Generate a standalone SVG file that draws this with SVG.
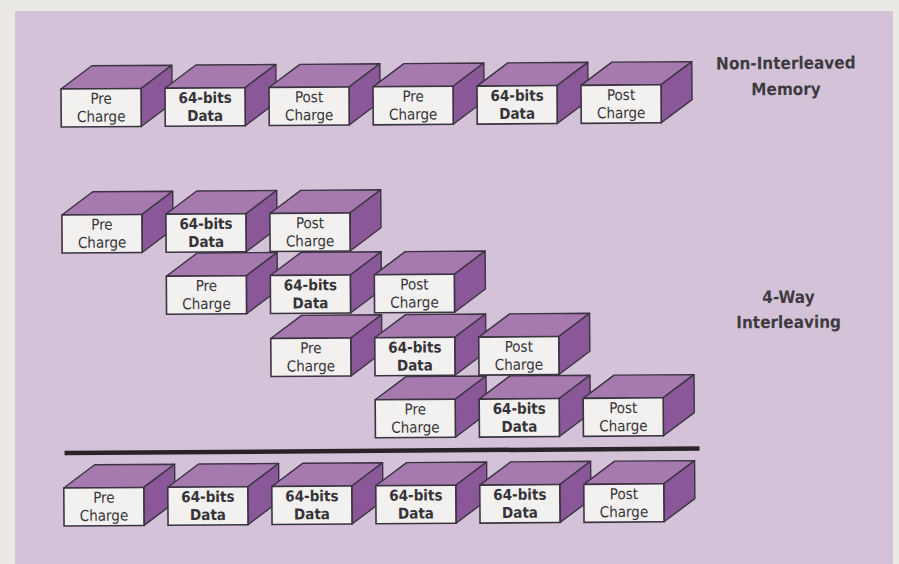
<svg xmlns="http://www.w3.org/2000/svg" xmlns:xlink="http://www.w3.org/1999/xlink" width="899" height="564" viewBox="0 0 899 564">
<style>
.top{fill:#a77aaf;stroke:#3a3340;stroke-width:1.4;stroke-linejoin:round}
.side{fill:#8a5898;stroke:#3a3340;stroke-width:1.4;stroke-linejoin:round}
.front{fill:#f3f1ef;stroke:#3a3340;stroke-width:1.6}
.t{font-family:"DejaVu Sans","Liberation Sans",sans-serif;font-stretch:condensed;font-size:15px;fill:#353337;text-anchor:middle}
.b{font-weight:bold}
.lbl{font-family:"DejaVu Sans","Liberation Sans",sans-serif;font-stretch:condensed;font-size:17px;font-weight:bold;fill:#3d3b40;text-anchor:middle}
</style>
<defs>
<g id="cube">
<polygon class="top" points="0,0 31,-23 111,-23 80,0"/>
<polygon class="side" points="80,0 111,-23 111,15 80,38"/>
<rect class="front" x="0" y="0" width="80" height="38"/>
</g>
</defs>
<rect x="0" y="0" width="899" height="564" fill="#ebe9e6"/>
<rect x="15" y="11" width="878" height="560" fill="#d4c3d8"/>
<g transform="rotate(-0.4 61 89)">
<g id="row1">
<g id="r1c1" transform="translate(61,89)"><use xlink:href="#cube"/><text class="t" x="40" y="15">Pre</text><text class="t" x="40" y="33">Charge</text></g>
<g id="r1c2" transform="translate(165,89)"><use xlink:href="#cube"/><text class="t b" x="40" y="15">64-bits</text><text class="t b" x="40" y="33">Data</text></g>
<g id="r1c3" transform="translate(269,89)"><use xlink:href="#cube"/><text class="t" x="40" y="15">Post</text><text class="t" x="40" y="33">Charge</text></g>
<g id="r1c4" transform="translate(373,89)"><use xlink:href="#cube"/><text class="t" x="40" y="15">Pre</text><text class="t" x="40" y="33">Charge</text></g>
<g id="r1c5" transform="translate(477,89)"><use xlink:href="#cube"/><text class="t b" x="40" y="15">64-bits</text><text class="t b" x="40" y="33">Data</text></g>
<g id="r1c6" transform="translate(581,89)"><use xlink:href="#cube"/><text class="t" x="40" y="15">Post</text><text class="t" x="40" y="33">Charge</text></g>
</g>
<g id="label1"><text class="lbl" x="786" y="74">Non-Interleaved</text><text class="lbl" x="786" y="100">Memory</text></g>

<g id="rowA">
<g id="a1" transform="translate(61,215)"><use xlink:href="#cube"/><text class="t" x="40" y="15">Pre</text><text class="t" x="40" y="33">Charge</text></g>
<g id="a2" transform="translate(165,215)"><use xlink:href="#cube"/><text class="t b" x="40" y="15">64-bits</text><text class="t b" x="40" y="33">Data</text></g>
<g id="a3" transform="translate(269,215)"><use xlink:href="#cube"/><text class="t" x="40" y="15">Post</text><text class="t" x="40" y="33">Charge</text></g>
</g>
<g id="rowB">
<g id="b1" transform="translate(165,277)"><use xlink:href="#cube"/><text class="t" x="40" y="15">Pre</text><text class="t" x="40" y="33">Charge</text></g>
<g id="b2" transform="translate(269,277)"><use xlink:href="#cube"/><text class="t b" x="40" y="15">64-bits</text><text class="t b" x="40" y="33">Data</text></g>
<g id="b3" transform="translate(373,277)"><use xlink:href="#cube"/><text class="t" x="40" y="15">Post</text><text class="t" x="40" y="33">Charge</text></g>
</g>
<g id="rowC">
<g id="c1" transform="translate(269,340)"><use xlink:href="#cube"/><text class="t" x="40" y="15">Pre</text><text class="t" x="40" y="33">Charge</text></g>
<g id="c2" transform="translate(373,340)"><use xlink:href="#cube"/><text class="t b" x="40" y="15">64-bits</text><text class="t b" x="40" y="33">Data</text></g>
<g id="c3" transform="translate(477,340)"><use xlink:href="#cube"/><text class="t" x="40" y="15">Post</text><text class="t" x="40" y="33">Charge</text></g>
</g>
<g id="rowD">
<g id="d1" transform="translate(373,402)"><use xlink:href="#cube"/><text class="t" x="40" y="15">Pre</text><text class="t" x="40" y="33">Charge</text></g>
<g id="d2" transform="translate(477,402)"><use xlink:href="#cube"/><text class="t b" x="40" y="15">64-bits</text><text class="t b" x="40" y="33">Data</text></g>
<g id="d3" transform="translate(581,402)"><use xlink:href="#cube"/><text class="t" x="40" y="15">Post</text><text class="t" x="40" y="33">Charge</text></g>
</g>
<g id="label2"><text class="lbl" x="787" y="308">4-Way</text><text class="lbl" x="787" y="333">Interleaving</text></g>

<g id="connectors"><line x1="62" y1="453" x2="697" y2="453" stroke="#2a2428" stroke-width="4.5"/></g>

<g id="rowE">
<g id="e1" transform="translate(61,488)"><use xlink:href="#cube"/><text class="t" x="40" y="15">Pre</text><text class="t" x="40" y="33">Charge</text></g>
<g id="e2" transform="translate(165,488)"><use xlink:href="#cube"/><text class="t b" x="40" y="15">64-bits</text><text class="t b" x="40" y="33">Data</text></g>
<g id="e3" transform="translate(269,488)"><use xlink:href="#cube"/><text class="t b" x="40" y="15">64-bits</text><text class="t b" x="40" y="33">Data</text></g>
<g id="e4" transform="translate(373,488)"><use xlink:href="#cube"/><text class="t b" x="40" y="15">64-bits</text><text class="t b" x="40" y="33">Data</text></g>
<g id="e5" transform="translate(477,488)"><use xlink:href="#cube"/><text class="t b" x="40" y="15">64-bits</text><text class="t b" x="40" y="33">Data</text></g>
<g id="e6" transform="translate(581,488)"><use xlink:href="#cube"/><text class="t" x="40" y="15">Post</text><text class="t" x="40" y="33">Charge</text></g>
</g>
</g>
</svg>
